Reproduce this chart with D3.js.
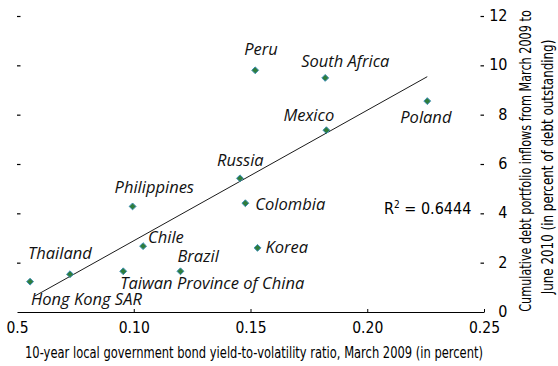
<!DOCTYPE html>
<html>
<head>
<meta charset="utf-8">
<script src="https://cdn.jsdelivr.net/npm/d3@7"></script>
<style>
  html, body { margin: 0; padding: 0; background: #fff; }
  svg { display: block; }
  .cond { font-family: "Liberation Sans Narrow", "DejaVu Sans Condensed", "Roboto", sans-serif; }
  .lab { font-family: "Open Sans", "Noto Sans", sans-serif; font-style: italic; }
</style>
</head>
<body>
<svg id="chart" width="558" height="366"></svg>
<script>
// ---- data ----
const countries = ["Peru", "South Africa", "Poland", "Mexico", "Russia", "Philippines", "Colombia", "Chile", "Korea", "Thailand", "Brazil", "Taiwan Province of China", "Hong Kong SAR"];
const yieldToVol = [0.152, 0.182, 0.2257, 0.1825, 0.1455, 0.0995, 0.1478, 0.104, 0.153, 0.0727, 0.120, 0.0955, 0.0556];
const inflows    = [9.8, 9.49, 8.55, 7.37, 5.42, 4.28, 4.41, 2.67, 2.60, 1.53, 1.65, 1.65, 1.23];
// label offsets from each point (px)
const labelDx = [-11, -24, -27, -43, -23, -18, 10, 5, 8, -42, -3, -3, 1];
const labelDy = [-15, -11, 22, -9, -12, -13, 7, -3, 5, -15, -9, 18, 23];
const trendX = [0.0577, 0.2257];
const trendY = [0.65, 9.54];
const xTicks = [0.05, 0.10, 0.15, 0.20, 0.25];
const xTickLabels = ["0.5", "0.10", "0.15", "0.20", "0.25"];
const yTicks = [0, 2, 4, 6, 8, 10, 12];
const rSquared = "0.6444";
const xTitle = "10-year local government bond yield-to-volatility ratio, March 2009 (in percent)";
const yTitle = ["Cumulative debt portfolio inflows from March 2009 to", "June 2010 (in percent of debt outstanding)"];

// ---- layout ----
const svg = d3.select("#chart");
const x = d3.scaleLinear().domain([0.05, 0.25]).range([17, 484]);
const y = d3.scaleLinear().domain([0, 12]).range([312, 16]);

// fit a text element to a given width by horizontal scaling
function fitWidth(sel, cx, cy, rot, width) {
  const w = sel.node().getComputedTextLength();
  const s = width / w;
  sel.attr("transform", `translate(${cx},${cy}) rotate(${rot}) scale(${s},1)`);
}

// x axis
const xAxis = d3.axisBottom(x).tickValues(xTicks)
  .tickFormat((d, i) => xTickLabels[i]).tickSizeInner(-3).tickSizeOuter(0).tickPadding(10);
const gx = svg.append("g").attr("transform", `translate(0,${y(0)})`).call(xAxis);
gx.select(".domain").attr("stroke", "#000").attr("stroke-width", 1.2);
gx.selectAll(".tick line").attr("stroke", "#000");
gx.selectAll(".tick").filter(d => d === 0.05).select("line").remove();
gx.selectAll("text").attr("class", "cond").attr("font-size", 15.5).attr("fill", "#000");

// right y axis (tick marks + right-aligned labels, no line)
const yAxis = d3.axisRight(y).tickValues(yTicks).tickSizeInner(3.5).tickSizeOuter(0).tickPadding(6);
const gy = svg.append("g").attr("transform", "translate(480.5,0)").call(yAxis);
gy.select(".domain").remove();
gy.selectAll(".tick line").attr("stroke", "#000").attr("stroke-width", 1.2);
gy.selectAll(".tick").filter(d => d === 0).select("line").remove();
gy.selectAll("text").attr("class", "cond").attr("font-size", 16).attr("dy", "0.28em")
  .attr("text-anchor", "end").attr("x", 27).attr("fill", "#000");

// left tick marks (no labels)
const gl = svg.append("g").attr("transform", "translate(17,0)")
  .call(d3.axisRight(y).tickValues(yTicks.filter(d => d > 0)).tickSizeInner(3.5).tickSizeOuter(0).tickFormat(""));
gl.select(".domain").remove();
gl.selectAll(".tick line").attr("stroke", "#000").attr("stroke-width", 1.2);

// trend line
svg.append("line")
  .attr("x1", x(trendX[0])).attr("y1", y(trendY[0]))
  .attr("x2", x(trendX[1])).attr("y2", y(trendY[1]))
  .attr("stroke", "#000").attr("stroke-width", 0.9);

// points
const pts = countries.map((c, i) => ({ c, xv: yieldToVol[i], yv: inflows[i], dx: labelDx[i], dy: labelDy[i] }));
const sym = d3.symbol().type(d3.symbolDiamond2).size(30);
svg.append("g").selectAll("path").data(pts).join("path")
  .attr("d", sym)
  .attr("transform", d => `translate(${x(d.xv)},${y(d.yv)})`)
  .attr("fill", "#2f7d3b").attr("stroke", "#3d8fb5").attr("stroke-width", 1);

// labels
svg.append("g").selectAll("text").data(pts).join("text")
  .attr("class", "lab")
  .attr("x", d => x(d.xv) + d.dx).attr("y", d => y(d.yv) + d.dy)
  .attr("font-size", 16.5).attr("fill", "#111")
  .text(d => d.c);

// R^2
const rt = svg.append("text").attr("class", "cond").attr("x", 384).attr("y", 214)
  .attr("font-size", 16).attr("fill", "#000");
rt.append("tspan").text("R");
rt.append("tspan").attr("dy", -6).attr("font-size", 10).text("2");
rt.append("tspan").attr("dy", 6).text(" = " + rSquared);

// x title
const xt = svg.append("text").attr("class", "cond").attr("font-size", 15).attr("fill", "#000")
  .attr("text-anchor", "middle").text(xTitle);
fitWidth(xt, 254, 358, 0, 458);

// y title
const yt1 = svg.append("text").attr("class", "cond").attr("font-size", 15).attr("fill", "#000")
  .attr("text-anchor", "middle").text(yTitle[0]);
fitWidth(yt1, 531, 161, -90, 302);
const yt2 = svg.append("text").attr("class", "cond").attr("font-size", 15).attr("fill", "#000")
  .attr("text-anchor", "middle").text(yTitle[1]);
fitWidth(yt2, 553, 167, -90, 255);
</script>
</body>
</html>
